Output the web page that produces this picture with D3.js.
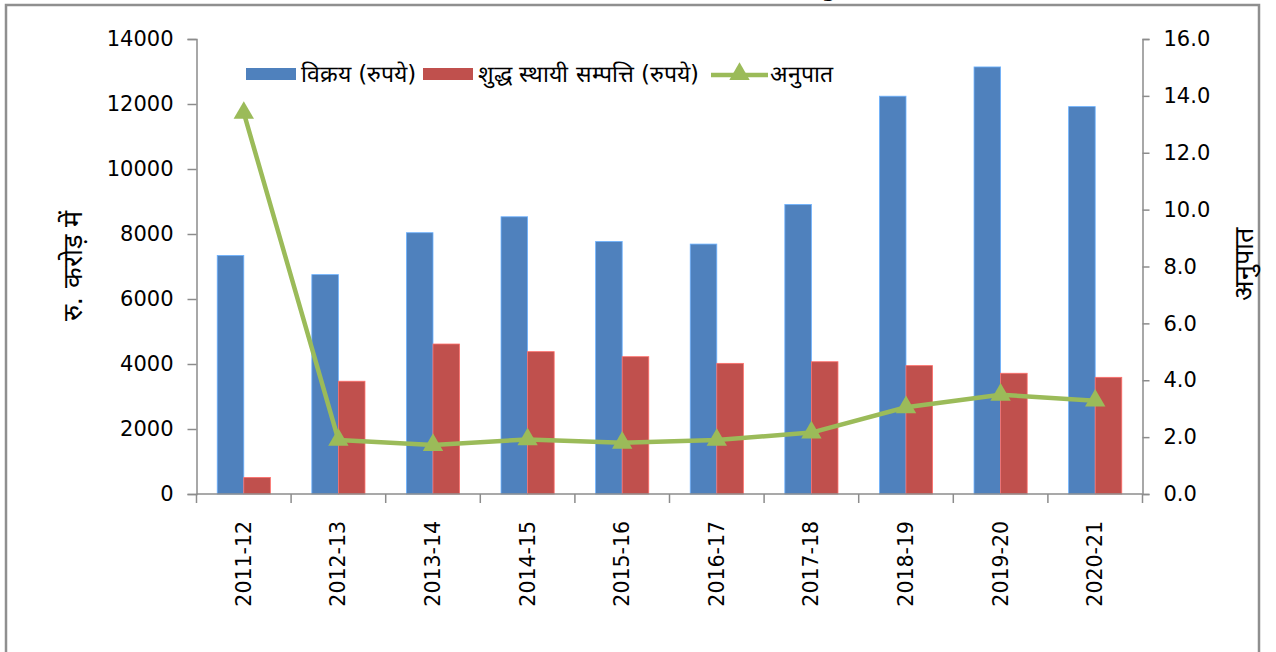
<!DOCTYPE html>
<html>
<head>
<meta charset="utf-8">
<script src="https://cdn.jsdelivr.net/npm/d3@7"></script>
<style>
  html, body { margin: 0; padding: 0; background: #fff; }
  svg { display: block; }
  text { font-family: "DejaVu Sans", sans-serif; fill: #000; }
</style>
</head>
<body>
<svg id="chart" width="1276" height="652"></svg>
<script>
// ---- data ----
const categories = ["2011-12","2012-13","2013-14","2014-15","2015-16","2016-17","2017-18","2018-19","2019-20","2020-21"];
const sales = [7340, 6750, 8040, 8530, 7770, 7690, 8910, 12240, 13140, 11920];
const netFixedAssets = [510, 3470, 4615, 4380, 4225, 4020, 4070, 3950, 3715, 3590];
const ratio = [13.4, 1.90, 1.72, 1.92, 1.80, 1.90, 2.16, 3.05, 3.49, 3.28];
const leftTicks = [0, 2000, 4000, 6000, 8000, 10000, 12000, 14000];
const rightTicks = [0, 2, 4, 6, 8, 10, 12, 14, 16];
const seriesNames = ["विक्रय (रुपये)", "शुद्ध स्थायी सम्पत्ति (रुपये)", "अनुपात"];
const leftAxisTitle = "रु. करोड़ में";
const rightAxisTitle = "अनुपात";
const colors = { sales: "#4F81BD", assets: "#C0504D", ratio: "#9BBB59" };

const svg = d3.select("#chart");
const axisColor = "#8c8c8c";
const plot = { left: 196.5, right: 1142.5, top: 39, bottom: 494 };

// chart frame
svg.append("rect").attr("x", 6).attr("y", 5).attr("width", 1253).attr("height", 700)
  .attr("fill", "none").attr("stroke", "#8f8f8f").attr("stroke-width", 2.5);

// clipped title fragment at top
svg.append("text").attr("x", 829).attr("y", -3).attr("text-anchor", "middle")
  .style("font-weight", "bold").style("font-size", "20px").text("g");

const x = d3.scaleBand().domain(categories).range([plot.left, plot.right]).paddingInner(0).paddingOuter(0);
const yL = d3.scaleLinear().domain([0, 14000]).range([plot.bottom, plot.top]);
const yR = d3.scaleLinear().domain([0, 16]).range([plot.bottom, plot.top]);
const inner = d3.scaleBand().domain(["sales", "assets"]).range([0, x.bandwidth()]).paddingOuter(0.78).paddingInner(0);

// bars
const rows = categories.map((c, i) => ({ c, sales: sales[i], assets: netFixedAssets[i], ratio: ratio[i] }));
["sales", "assets"].forEach(key => {
  svg.append("g").selectAll("rect").data(rows).join("rect")
    .attr("x", d => x(d.c) + inner(key))
    .attr("y", d => yL(d[key]))
    .attr("width", inner.bandwidth())
    .attr("height", d => plot.bottom - yL(d[key]))
    .attr("fill", colors[key])
    .attr("stroke", d3.color(colors[key]).brighter(0.9))
    .attr("stroke-width", 0.8);
});

// left axis
const gL = svg.append("g").attr("transform", `translate(${plot.left},0)`)
  .call(d3.axisLeft(yL).tickValues(leftTicks).tickSize(9).tickPadding(14).tickFormat(d3.format("d")));
gL.selectAll("path, line").attr("stroke", axisColor).attr("stroke-width", 1.5);
gL.selectAll("text").style("font-size", "21px").style("font-family", "DejaVu Sans").attr("fill", "#000");

// right axis
const gR = svg.append("g").attr("transform", `translate(${plot.right},0)`)
  .call(d3.axisRight(yR).tickValues(rightTicks).tickSize(7).tickPadding(14).tickFormat(d3.format(".1f")));
gR.selectAll("path, line").attr("stroke", axisColor).attr("stroke-width", 1.5);
gR.selectAll("text").style("font-size", "21px").style("font-family", "DejaVu Sans").attr("fill", "#000");

// bottom axis
const gX = svg.append("g").attr("transform", `translate(0,${plot.bottom})`);
gX.append("line").attr("x1", plot.left).attr("x2", plot.right).attr("stroke", axisColor).attr("stroke-width", 1.5);
const bounds = categories.map(c => x(c)).concat([plot.right]);
gX.selectAll("line.tk").data(bounds).join("line").attr("class", "tk")
  .attr("x1", d => d).attr("x2", d => d).attr("y1", 0).attr("y2", 9)
  .attr("stroke", axisColor).attr("stroke-width", 1.5);
gX.selectAll("text").data(categories).join("text")
  .attr("transform", d => `translate(${x(d) + x.bandwidth() / 2 + 7},27) rotate(-90)`)
  .attr("text-anchor", "end")
  .style("font-size", "20.5px")
  .text(d => d);

// ratio line
const line = d3.line().x(d => x(d.c) + x.bandwidth() / 2).y(d => yR(d.ratio));
svg.append("path").datum(rows).attr("d", line).attr("fill", "none")
  .attr("stroke", colors.ratio).attr("stroke-width", 4.5).attr("stroke-linejoin", "round");
const tri = d3.symbol().type(d3.symbolTriangle).size(180);
svg.append("g").selectAll("path").data(rows).join("path")
  .attr("transform", d => `translate(${x(d.c) + x.bandwidth() / 2},${yR(d.ratio)})`)
  .attr("d", tri).attr("fill", colors.ratio);

// axis titles
svg.append("text").attr("transform", `translate(82,266) rotate(-90)`).attr("text-anchor", "middle")
  .style("font-size", "27px").text(leftAxisTitle);
svg.append("text").attr("transform", `translate(1253,264) rotate(-90)`).attr("text-anchor", "middle")
  .style("font-size", "27px").text(rightAxisTitle);

// legend
const lg = svg.append("g").style("font-size", "23px");
const items = [
  { name: seriesNames[0], type: "bar", color: colors.sales, x: 246 },
  { name: seriesNames[1], type: "bar", color: colors.assets, x: 423 },
  { name: seriesNames[2], type: "line", color: colors.ratio, x: 711 }
];
items.forEach(it => {
  if (it.type === "bar") {
    lg.append("rect").attr("x", it.x).attr("y", 68).attr("width", 50).attr("height", 12).attr("fill", it.color);
  } else {
    lg.append("line").attr("x1", it.x).attr("x2", it.x + 57).attr("y1", 75).attr("y2", 75)
      .attr("stroke", it.color).attr("stroke-width", 4.5);
    lg.append("path").attr("transform", `translate(${it.x + 28.5},74)`).attr("d", tri).attr("fill", it.color);
  }
  lg.append("text").attr("x", it.x + (it.type === "bar" ? 55 : 59)).attr("y", 82).text(it.name);
});
</script>
</body>
</html>
